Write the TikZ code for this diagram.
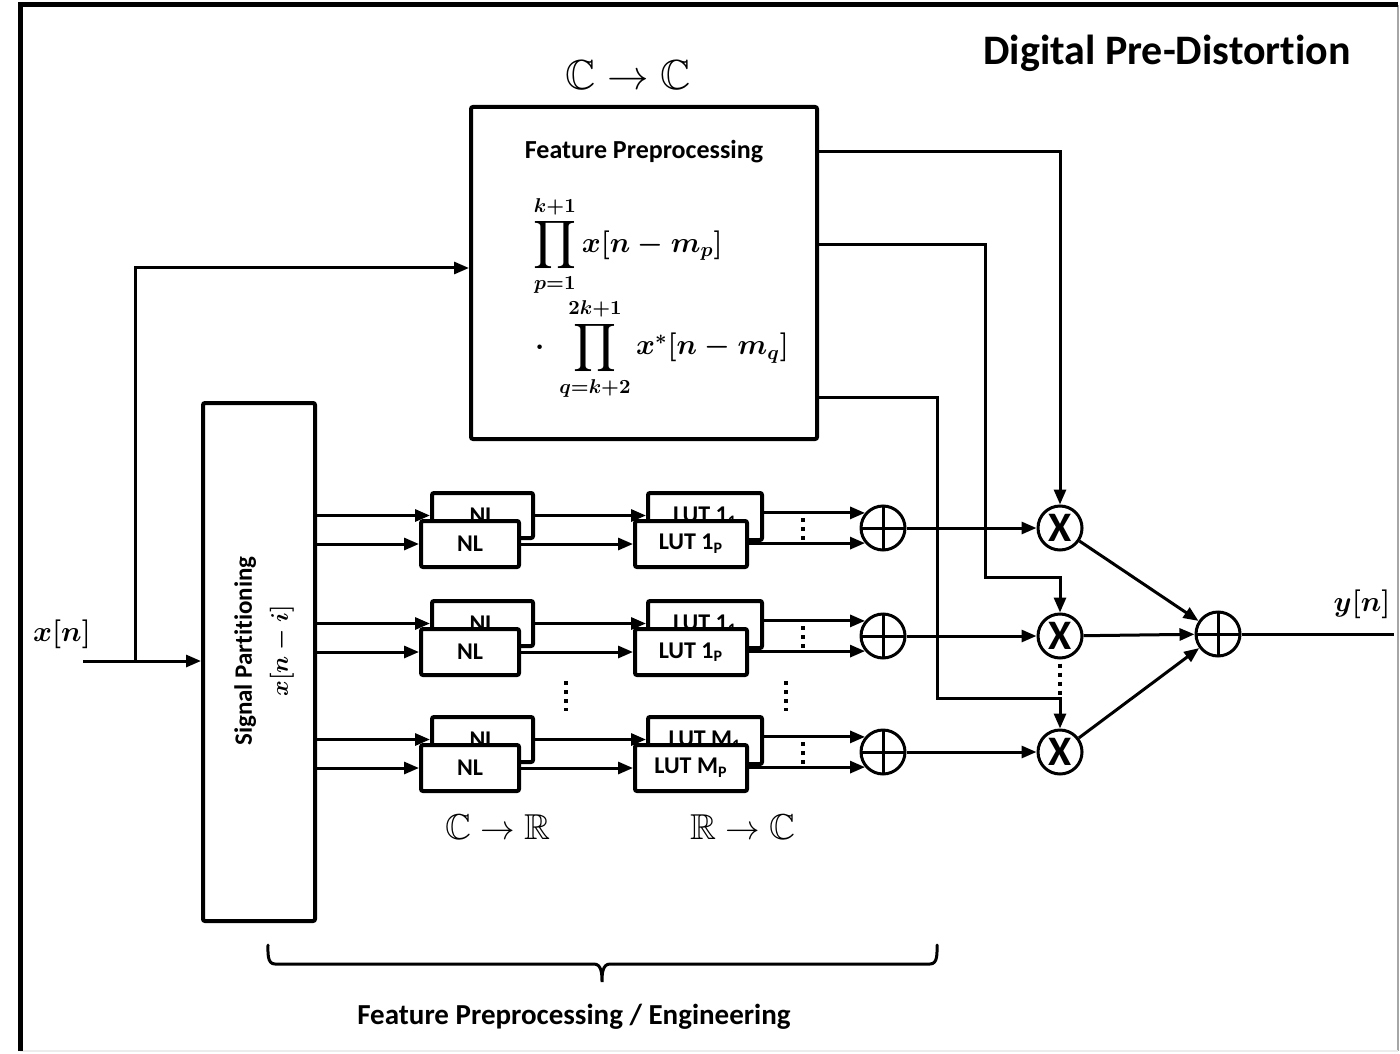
\documentclass[tikz,border=0pt]{standalone}
\usepackage[no-math]{fontspec}
\setmainfont{Carlito}[Ligatures=NoCommon]
\usepackage{amsmath,amssymb,graphicx}
\usetikzlibrary{arrows.meta}
\newcommand{\myprod}{\mathop{\vcenter{\hbox{\scalebox{1.2}{$\displaystyle\prod$}}}}\limits}
\tikzset{
  wire/.style={line width=1.5pt},
  arr/.style={line width=1.5pt,-{Triangle[length=7.5pt,width=6pt]}},
  blk/.style={draw,line width=2pt,fill=white,rounded corners=1pt,inner sep=0pt,
    font=\fontsize{12}{14}\selectfont\bfseries},
  sumc/.style={circle,draw,line width=1.5pt,fill=white,minimum size=22pt,inner sep=0pt,
    path picture={\draw[line width=1.5pt] (path picture bounding box.north) -- (path picture bounding box.south)
      (path picture bounding box.west) -- (path picture bounding box.east);}},
  mulc/.style={circle,draw,line width=1.5pt,fill=white,minimum size=22pt,inner sep=0pt,
    font=\fontsize{21}{21}\selectfont\bfseries},
  dotl/.style={line width=2pt,dash pattern=on 2pt off 2.5pt},
  bbtxt/.style={inner sep=0pt,font=\fontsize{18}{20}\selectfont},
  mtxt/.style={inner sep=0pt,font=\fontsize{14}{16}\selectfont\boldmath},
  ftxt/.style={inner sep=0pt,anchor=west,font=\fontsize{14}{16}\selectfont\boldmath},
}
\begin{document}
\begin{tikzpicture}[x=0.5pt,y=-0.5pt]
\useasboundingbox (0,0) rectangle (1400,1053);
% frame
\draw[gray!70,line width=1pt] (1398,5) -- (1398,1051);
\draw[gray!15,line width=1pt] (20,1051) -- (1398,1051);
\draw[line width=2.5pt] (20,1051) -- (20,5) -- (1398,5);

\node[inner sep=0pt,font=\fontsize{21}{24}\selectfont\bfseries] (title) at (1167,53) {Digital Pre-Distortion};
\node[bbtxt,font=\fontsize{21}{23}\selectfont] (cc) at (628,75) {$\mathbb{C}\rightarrow\mathbb{C}$};

% feature preprocessing box
\node[blk,minimum width=173pt,minimum height=166pt] (fp) at (644,273) {};
\node[inner sep=0pt,font=\fontsize{13}{15}\selectfont\bfseries] (fpt) at (644,152) {Feature Preprocessing};
\node[ftxt] (f1) at (533,246) {$\myprod_{p=1}^{k+1} x[n-m_p]$};
\node[ftxt] (f2) at (535,349) {$\cdot\;\myprod_{q=k+2}^{2k+1} x^{*}[n-m_q]$};

% signal partitioning
\node[blk,minimum width=56pt,minimum height=259pt] (sp) at (259,662) {};
\node[rotate=90,align=center,inner sep=0pt,font=\fontsize{12.5}{15}\selectfont\bfseries] (spt) at (264,651)
  {Signal Partitioning\\[3pt]{\fontsize{13}{15}\selectfont\boldmath$x[n-i]$}};

% input
\node[mtxt] (xin) at (62,634) {$x[n]$};
\coordinate (in) at (83,661);
\coordinate (br) at (135,661);
\draw[arr] (in) -- (sp.west |- in);
\draw[arr] (br) |- (fp.west |- 0,268);

% rows
\foreach \r/\dy/\lab in {1/0/1,2/108/1,3/224/M}{
  \node[blk,minimum width=50.5pt,minimum height=22.5pt] (nlb\r) at (482.5,515.5+\dy) {NL};
  \node[blk,minimum width=57pt,minimum height=23.5pt] (lutb\r) at (705,516.5+\dy) {LUT \lab\textsubscript{1}};
  \draw[arr] (sp.east |- nlb\r.west) -- (nlb\r.west);
  \draw[arr] (nlb\r.east) -- (lutb\r.west |- nlb\r.east);
  \node[sumc] (s\r) at (883,528+\dy) {};
  \draw[arr] (lutb\r.east |- s\r.140) -- (s\r.140);
  \node[blk,minimum width=49pt,minimum height=23pt] (nlf\r) at (470,544+\dy) {NL};
  \node[blk,minimum width=56pt,minimum height=23pt] (lutf\r) at (691,544+\dy) {LUT \lab\textsubscript{P}};
  \draw[arr] (sp.east |- nlf\r.west) -- (nlf\r.west);
  \draw[arr] (nlf\r.east) -- (lutf\r.west);
  \draw[arr] (lutf\r.east |- s\r.220) -- (s\r.220);
  \draw[dotl] (803,518+\dy) -- (803,542+\dy);
  \node[mulc] (m\r) at (1060,528+\dy) {X};
  \draw[arr] (s\r) -- (m\r);
}
% vertical dots between rows
\draw[dotl] (566,681) -- (566,711);
\draw[dotl] (786,681) -- (786,711);
\draw[dotl] (m2.south) ++(0,4) -- (1060,695);

\node[bbtxt] (cr) at (498,827) {$\mathbb{C}\rightarrow\mathbb{R}$};
\node[bbtxt] (rc) at (743,827) {$\mathbb{R}\rightarrow\mathbb{C}$};

% feature outputs to multipliers
\coordinate (c2a) at (985,245);
\coordinate (c2b) at (985,577);
\coordinate (c3a) at (937,397);
\coordinate (c3b) at (937,698);
\draw[arr] (fp.east |- 0,152) -| (m1.north);
\draw[arr] (fp.east |- c2a) -- (c2a) -- (c2b) -| (m2.north);
\draw[arr] (fp.east |- c3a) -- (c3a) -- (c3b) -| (m3.north);

% final sum
\node[sumc] (fs) at (1218,634) {};
\draw[arr] (m1) -- (fs);
\draw[arr] (m2) -- (fs);
\draw[arr] (m3) -- (fs);
\coordinate (out) at (1394,634);
\draw[wire] (fs) -- (out);
\node[mtxt] (yout) at (1362,604) {$y[n]$};

% brace
\draw[line width=1.5pt,line cap=round] (268,945) to[out=-90,in=180] (275,964) -- (594,964)
  to[out=0,in=90] (602,982) to[out=90,in=180] (610,964) -- (930,964) to[out=0,in=-90] (937,945);
\node[inner sep=0pt,font=\fontsize{14.5}{17}\selectfont\bfseries] (bl) at (574,1017) {Feature Preprocessing / Engineering};
\end{tikzpicture}
\end{document}
